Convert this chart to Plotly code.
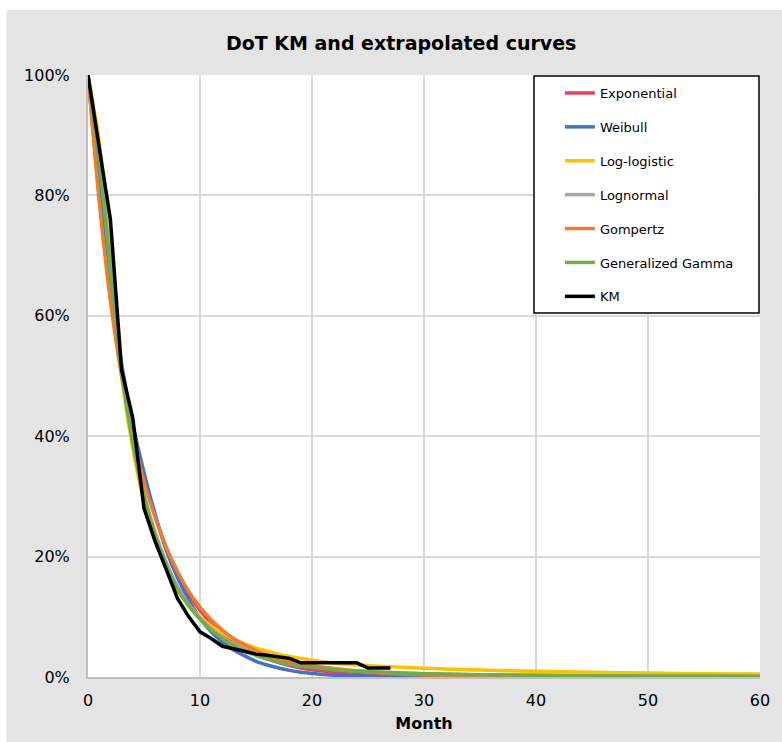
import plotly.graph_objects as go

# Fitted-curve month grid
months = [0, 1, 2, 3, 4, 5, 6, 7, 8, 9, 10, 11, 12, 13, 14, 15, 16, 17, 18, 19, 20,
          22, 24, 26, 28, 30, 35, 40, 45, 50, 55, 60]

exponential = [100, 80, 64, 51.5, 41.5, 33, 26.7, 21.4, 17.2, 13.8, 11.1, 8.9, 7.1, 5.7, 4.6, 3.7,
               3.0, 2.4, 1.9, 1.5, 1.2, 0.8, 0.5, 0.35, 0.22, 0.14, 0.05, 0.02, 0.01, 0, 0, 0]
weibull = [100, 82, 65, 52, 42, 34, 27, 21, 16.5, 12.8, 9.8, 7.5, 5.8, 4.5, 3.5, 2.6,
           2.0, 1.5, 1.1, 0.8, 0.6, 0.3, 0.15, 0.08, 0.04, 0.02, 0, 0, 0, 0, 0, 0]
loglogistic = [100, 89, 70, 50, 38, 29, 23, 18, 14.5, 12, 10, 8.5, 7.3, 6.3, 5.5, 4.8,
               4.3, 3.8, 3.4, 3.1, 2.8, 2.3, 2.0, 1.8, 1.6, 1.45, 1.15, 0.95, 0.8, 0.65, 0.55, 0.5]
lognormal = [100, 87, 68, 51, 39, 30.5, 24, 19, 15, 12, 9.8, 8, 6.6, 5.5, 4.6, 3.8,
             3.2, 2.7, 2.3, 2.0, 1.7, 1.3, 1.05, 0.85, 0.7, 0.55, 0.38, 0.28, 0.2, 0.16, 0.13, 0.1]
gompertz = [100, 79, 62.5, 50, 40.5, 32.5, 26.5, 21.5, 17.5, 14.2, 11.6, 9.5, 7.8, 6.4, 5.3, 4.4,
            3.7, 3.1, 2.6, 2.2, 1.9, 1.4, 1.0, 0.7, 0.5, 0.35, 0.15, 0.07, 0.03, 0.01, 0, 0]
gengamma = [100, 86, 68, 51, 39, 30, 23.5, 18.5, 14.5, 11.8, 9.6, 7.8, 6.4, 5.2, 4.3, 3.6,
            3.0, 2.5, 2.1, 1.8, 1.6, 1.2, 0.95, 0.8, 0.65, 0.55, 0.38, 0.28, 0.22, 0.18, 0.15, 0.12]

km_months = list(range(0, 28))
km = [100, 88, 76, 51, 43, 28, 22.5, 17.8, 13, 10, 7.5, 6.4, 5.1, 4.7, 4.2, 3.8, 3.6, 3.4, 3.1,
      2.35, 2.35, 2.35, 2.35, 2.35, 2.35, 1.5, 1.5, 1.5]

series = [
    ("Exponential", exponential, "#E8405E"),
    ("Weibull", weibull, "#4472C4"),
    ("Log-logistic", loglogistic, "#FFC000"),
    ("Lognormal", lognormal, "#A5A5A5"),
    ("Gompertz", gompertz, "#ED7D31"),
    ("Generalized Gamma", gengamma, "#70AD47"),
]

FONT = "DejaVu Sans"

fig = go.Figure()
for name, vals, color in series:
    fig.add_trace(go.Scatter(
        x=months, y=[v / 100 for v in vals], mode="lines", name=name,
        legendgroup=name,
        line=dict(color=color, width=3.5, shape="spline", smoothing=0.6),
    ))
fig.add_trace(go.Scatter(
    x=km_months, y=[v / 100 for v in km], mode="lines", name="KM", legendgroup="KM",
    line=dict(color="#000000", width=3.5),
))

L, R, T, B = 88, 19, 75, 65
W, H = 782, 742
pw, ph = W - L - R, H - T - B

def px2x(px):
    return (px - L) / pw

def px2y(py):
    return (H - B - py) / ph

fig.update_layout(
    width=W, height=H,
    margin=dict(l=L, r=R, t=T, b=B),
    paper_bgcolor="#ffffff",
    plot_bgcolor="#ffffff",
    font=dict(family=FONT, color="#000000"),
    title=dict(text="<b>DoT KM and extrapolated curves</b>", x=0.513, xanchor="center",
               y=1 - 43 / H, yanchor="middle", yref="container",
               font=dict(family=FONT, size=19, color="#000000")),
    showlegend=True,
    legend=dict(x=px2x(562), xanchor="left", y=px2y(78), yanchor="top",
                bgcolor="rgba(0,0,0,0)", borderwidth=0,
                font=dict(family=FONT, size=13, color="#000000"),
                tracegroupgap=14, traceorder="grouped"),
    shapes=[
        dict(type="rect", xref="paper", yref="paper", layer="below",
             x0=px2x(6), x1=1.1, y0=-0.2, y1=px2y(10),
             fillcolor="#e4e4e4", line=dict(width=0)),
        dict(type="rect", xref="paper", yref="paper", layer="below",
             x0=0, x1=1, y0=0, y1=1,
             fillcolor="#ffffff", line=dict(width=0)),
        dict(type="rect", xref="paper", yref="paper", layer="above",
             x0=px2x(536), x1=px2x(762), y0=px2y(313), y1=px2y(76),
             fillcolor="#ffffff", line=dict(color="#000000", width=1.5)),
    ],
)

fig.update_xaxes(range=[0, 60], dtick=10, tick0=0, showgrid=True, gridcolor="#d9d9d9",
                 gridwidth=1.5, showline=True, linecolor="#bfbfbf", linewidth=2,
                 zeroline=False, ticks="", ticklabelstandoff=8,
                 tickfont=dict(family=FONT, size=16, color="#000000"),
                 title=dict(text="<b>Month</b>", standoff=9,
                            font=dict(family=FONT, size=16, color="#000000")))
fig.update_yaxes(range=[0, 1], dtick=0.2, tick0=0, tickformat=".0%", showgrid=True,
                 gridcolor="#d9d9d9", gridwidth=1.5, showline=True, linecolor="#bfbfbf",
                 linewidth=2, zeroline=False, ticks="", ticklabelstandoff=13,
                 tickfont=dict(family=FONT, size=16, color="#000000"))

fig.write_html("out.html")
